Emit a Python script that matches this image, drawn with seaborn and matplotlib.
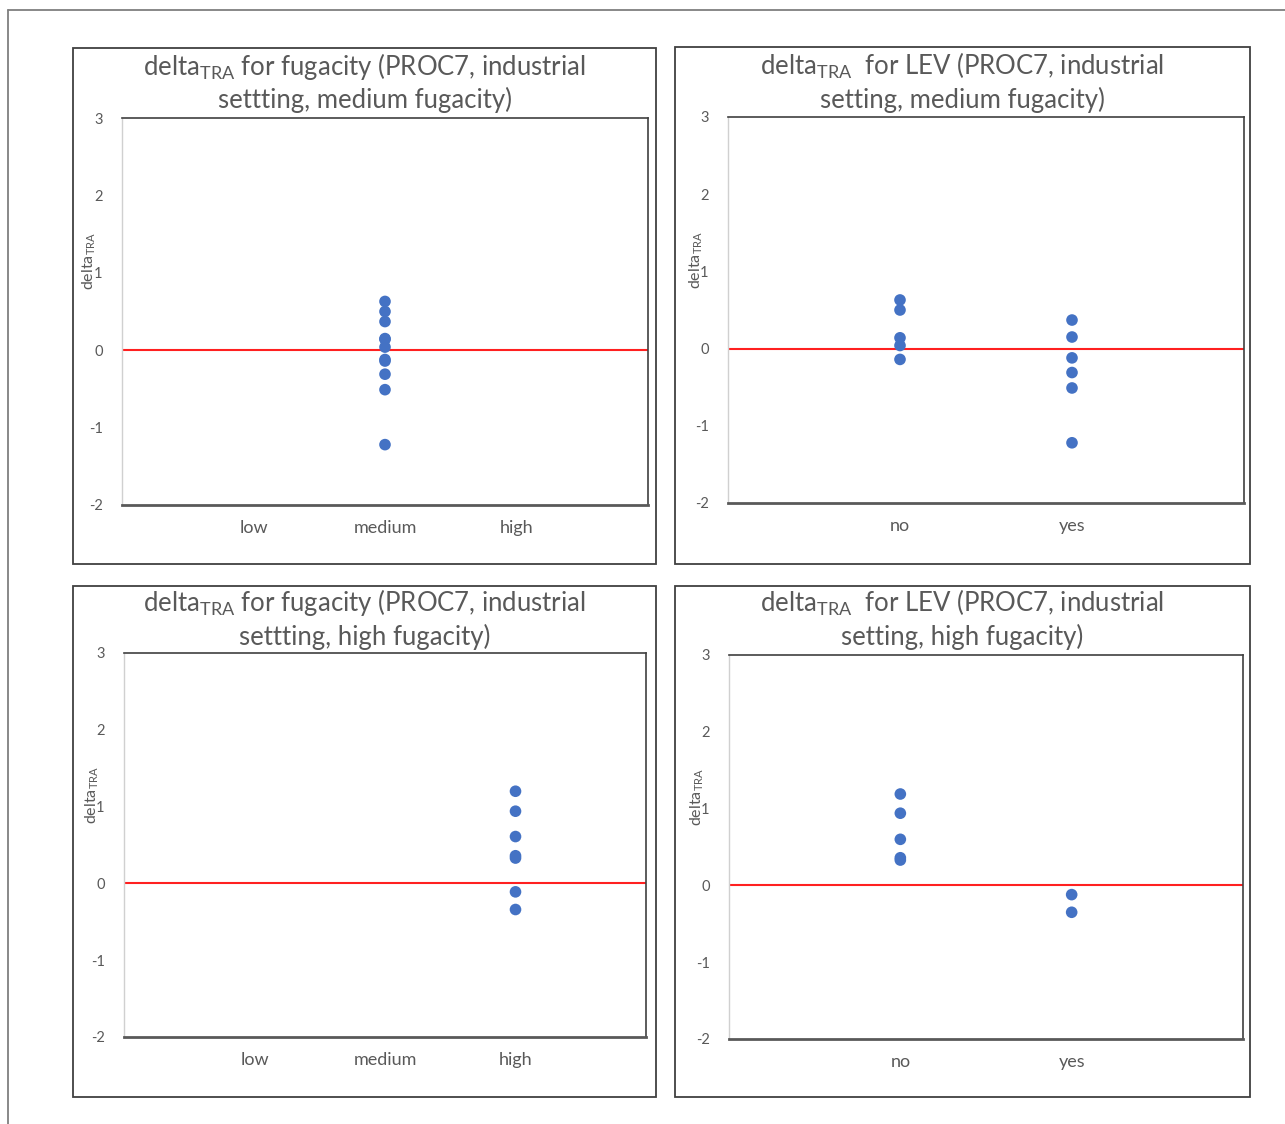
import matplotlib
matplotlib.use("Agg")
import matplotlib.pyplot as plt
import seaborn as sns
import pandas as pd
from matplotlib.patches import Rectangle
from matplotlib.lines import Line2D

sns.set_theme(style="white")
plt.rcParams['font.family'] = ['Lato', 'DejaVu Sans']

# ---------------- data ----------------
fug_categories = ["low", "medium", "high"]
lev_categories = ["no", "yes"]

p1_medium = [0.63, 0.50, 0.37, 0.15, 0.14, 0.04, -0.12, -0.14, -0.31, -0.51, -1.22]
p2_no = [0.63, 0.50, 0.14, 0.04, -0.14]
p2_yes = [0.37, 0.15, -0.12, -0.31, -0.51, -1.22]
p3_high = [1.20, 0.94, 0.61, 0.36, 0.33, -0.11, -0.34]
p4_no = [1.19, 0.94, 0.60, 0.36, 0.33]
p4_yes = [-0.12, -0.35]

yticks = [3, 2, 1, 0, -1, -2]

titles = [
    ("delta$_{\\mathregular{TRA}}$ for fugacity (PROC7, industrial", "settting, medium fugacity)"),
    ("delta$_{\\mathregular{TRA}}$  for LEV (PROC7, industrial", "setting, medium fugacity)"),
    ("delta$_{\\mathregular{TRA}}$ for fugacity (PROC7, industrial", "settting, high fugacity)"),
    ("delta$_{\\mathregular{TRA}}$  for LEV (PROC7, industrial", "setting, high fugacity)"),
]

W, H = 1285, 1124
fig = plt.figure(figsize=(W / 100, H / 100), dpi=100)

TXT = "#595959"
DOT = "#4472C4"


def fx(x):
    return x / W


def fy(y):
    return 1 - y / H


# outer border
fig.add_artist(Line2D([fx(8), fx(8)], [fy(10), fy(1124)], color="#7f7f7f", lw=1.3))
fig.add_artist(Line2D([fx(8), fx(1285)], [fy(10), fy(10)], color="#7f7f7f", lw=1.3))

# panel layout in pixels: (box x0, y0, x1, y1), (plot x0, y0, x1, y1)
panels = [
    ((73, 48, 656, 564), (122, 118, 648, 505)),
    ((675, 47, 1250, 564), (728, 117, 1244, 503)),
    ((73, 586, 656, 1097), (124, 653, 646, 1037)),
    ((675, 586, 1250, 1097), (729, 655, 1243, 1039)),
]
title_rows = [(66, 100), (66, 100), (603, 637), (603, 637)]


def frame(i):
    bx0, by0, bx1, by1 = panels[i][0]
    fig.add_artist(Rectangle((fx(bx0), fy(by1)), fx(bx1 - bx0), (by1 - by0) / H,
                             fill=False, ec="#404040", lw=1.3))
    px0, py0, px1, py1 = panels[i][1]
    ax = fig.add_axes([fx(px0), fy(py1), fx(px1 - px0), (py1 - py0) / H])
    cx = (bx0 + bx1) / 2
    t1, t2 = titles[i]
    r1, r2 = title_rows[i]
    fig.text(fx(cx), fy(r1), t1, ha="center", va="center", fontsize=18.5, color=TXT)
    fig.text(fx(cx), fy(r2), t2, ha="center", va="center", fontsize=18.5, color=TXT)
    return ax


def scatter(ax, cats, groups, ncat, i):
    rows = []
    for cat, vals in groups:
        for v in vals:
            rows.append({"x": cats.index(cat) + 1, "y": v})
    df = pd.DataFrame(rows)
    sns.scatterplot(data=df, x="x", y="y", ax=ax, color=DOT, s=70, edgecolor="none",
                    legend=False, zorder=3)
    ax.axhline(0, color="#ff2020", lw=1.5, zorder=1)
    ax.set_xlim(0, ncat + 1)
    ax.set_xticks(range(1, ncat + 1))
    ax.set_xticklabels(cats, fontsize=13, color=TXT)
    ax.set_ylim(-2, 3)
    ax.set_yticks(yticks)
    ax.set_yticklabels([str(t) for t in yticks], fontsize=10.5, color=TXT)
    ax.tick_params(axis="y", length=0, pad=14)
    ax.tick_params(axis="x", length=0, pad=11)
    for s in ["top", "right"]:
        ax.spines[s].set_color("#404040")
        ax.spines[s].set_linewidth(1.2)
    ax.spines["bottom"].set_color("#595959")
    ax.spines["bottom"].set_linewidth(2.0)
    ax.spines["left"].set_color("#d0d0d0")
    ax.spines["left"].set_linewidth(1.0)
    ax.set_xlabel("")
    ax.set_ylabel("delta$_{\\mathregular{TRA}}$", fontsize=11.5, color=TXT)
    ax.yaxis.set_label_coords(-0.045, 0.63)


ax1 = frame(0)
scatter(ax1, fug_categories, [("medium", p1_medium)], 3, 0)
ax2 = frame(1)
scatter(ax2, lev_categories, [("no", p2_no), ("yes", p2_yes)], 2, 1)
ax3 = frame(2)
scatter(ax3, fug_categories, [("high", p3_high)], 3, 2)
ax4 = frame(3)
scatter(ax4, lev_categories, [("no", p4_no), ("yes", p4_yes)], 2, 3)

fig.savefig("out.png", dpi=100)
